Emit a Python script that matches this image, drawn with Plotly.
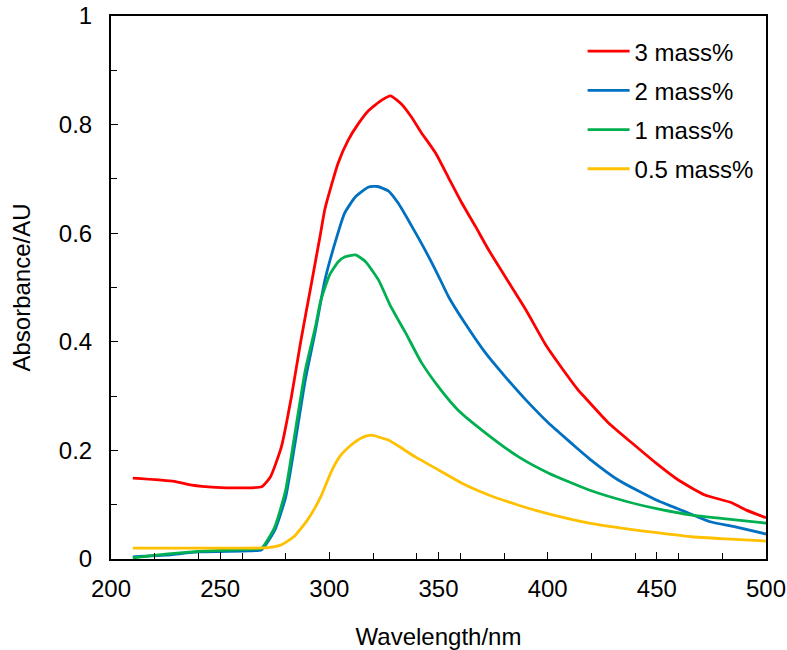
import plotly.graph_objects as go

# UV-Vis absorbance spectra
wl_3 = [210, 229, 237, 248, 260, 269, 273, 278, 282.6, 287, 291.7, 296, 298, 304, 308.7, 313, 318, 324, 328,
        333, 337.6, 342, 348.6, 354.6, 360.5, 367, 373, 383.5, 390, 399, 405, 414, 417.4, 428,
        438.5, 449.5, 460, 472, 484, 491, 500]
abs_3 = [0.149, 0.143, 0.136, 0.132, 0.131, 0.133, 0.151, 0.206, 0.298, 0.403, 0.505, 0.600, 0.645, 0.729,
         0.772, 0.800, 0.826, 0.845, 0.853, 0.838, 0.814, 0.786, 0.748, 0.702, 0.657, 0.612, 0.569,
         0.501, 0.459, 0.395, 0.360, 0.311, 0.296, 0.25, 0.214, 0.177, 0.145, 0.118, 0.104, 0.09,
         0.076]

wl_2 = [210, 225, 240, 263, 269, 275, 280, 284, 289, 293.6, 298, 302.8, 307, 312, 318, 322, 327, 331.6,
        337.6, 344, 350, 354.6, 362, 371.6, 380.7, 390, 400.5, 405, 414, 419, 432.5, 449.5, 463, 474, 486,
        500]
abs_2 = [0.004, 0.007, 0.013, 0.015, 0.017, 0.053, 0.114, 0.206, 0.33, 0.42, 0.514, 0.585, 0.637, 0.667,
         0.685, 0.686, 0.678, 0.655, 0.614, 0.568, 0.521, 0.483, 0.435, 0.379, 0.335, 0.293, 0.25, 0.234,
         0.202, 0.185, 0.145, 0.109, 0.087, 0.069, 0.059, 0.046]

wl_1 = [210, 225, 240, 263, 269, 275, 280, 284, 289, 293.6, 296, 300, 304, 307, 312, 316.5, 322.5, 328,
        331.6, 335, 342, 350, 359, 371.6, 386.7, 400.5, 419, 437, 451, 466, 481.6, 500]
abs_1 = [0.002, 0.009, 0.014, 0.018, 0.02, 0.059, 0.127, 0.225, 0.348, 0.427, 0.475, 0.522, 0.547, 0.556,
         0.56, 0.548, 0.514, 0.466, 0.44, 0.416, 0.363, 0.317, 0.274, 0.232, 0.188, 0.158, 0.127, 0.105,
         0.092, 0.081, 0.074, 0.066]

wl_05 = [210, 240, 263, 272, 278, 284, 290, 296, 301, 305, 310, 314.7, 319, 327, 331.6, 339.4, 350, 360.5,
         373, 386.7, 400.5, 419, 437, 451, 466, 481.6, 500]
abs_05 = [0.02, 0.02, 0.02, 0.021, 0.026, 0.042, 0.072, 0.114, 0.162, 0.19, 0.21, 0.223, 0.228, 0.219,
          0.208, 0.188, 0.164, 0.14, 0.118, 0.099, 0.083, 0.066, 0.055, 0.048, 0.041, 0.037, 0.033]

names = ["3 mass%", "2 mass%", "1 mass%", "0.5 mass%"]
colors = ["#FF0000", "#0070C0", "#00B050", "#FFC000"]
series = [(wl_3, abs_3), (wl_2, abs_2), (wl_1, abs_1), (wl_05, abs_05)]

FONT = "Liberation Sans, Arial, sans-serif"
BIG = dict(family=FONT, size=24, color="black")

fig = go.Figure()
for (x, y), name, col in zip(series, names, colors):
    fig.add_trace(go.Scatter(x=x, y=y, name=name, mode="lines", legendgroup=name,
                             line=dict(color=col, width=2.8, shape="spline", smoothing=0.5)))

axis_common = dict(showline=True, linecolor="black", linewidth=2, mirror=True,
                   ticks="inside", ticklen=7, tickwidth=1.3, tickcolor="black",
                   showgrid=False, zeroline=False, automargin=False,
                   ticklabeloverflow="allow", tickfont=BIG)

fig.update_xaxes(range=[200, 500], dtick=50, tick0=200, ticklabelstandoff=7,
                 minor=dict(dtick=20, tick0=200, ticks="inside", ticklen=6, tickcolor="black"),
                 title=dict(text="Wavelength/nm", font=BIG, standoff=27),
                 **axis_common)
fig.update_yaxes(range=[0, 1], dtick=0.2, tick0=0, ticklabelstandoff=12,
                 minor=dict(dtick=0.1, ticks="inside", ticklen=6, tickcolor="black"),
                 title=dict(text="Absorbance/AU", font=BIG, standoff=21),
                 **axis_common)

fig.update_layout(
    width=787, height=650,
    margin=dict(l=111, r=21, t=16, b=91),
    plot_bgcolor="white", paper_bgcolor="white",
    font=BIG,
    legend=dict(x=0.72, y=0.976, xanchor="left", yanchor="top", itemwidth=42,
                bgcolor="rgba(0,0,0,0)", tracegroupgap=5, font=BIG),
)

# drop the page's default 8px body margin so the figure fills the window
fig.write_html("out.html", config={"displayModeBar": False},
               post_script="document.body.style.margin = '0';")
